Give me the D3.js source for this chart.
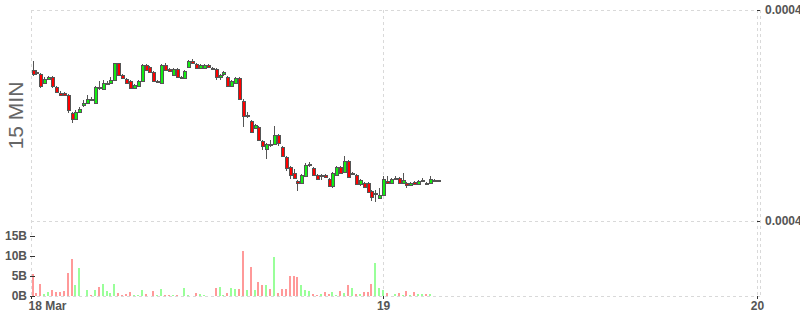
<!DOCTYPE html>
<html>
<head>
<meta charset="utf-8">
<script src="https://cdn.jsdelivr.net/npm/d3@7"></script>
<style>
  body { margin: 0; background: #fff; }
  svg { display: block; font-family: "Liberation Sans", Arial, sans-serif; }
  .grid line { stroke: #d9d9d9; stroke-dasharray: 3,3; shape-rendering: crispEdges; }
  .axis text { font-size: 12px; font-weight: bold; fill: #555; }
  .axis line { stroke: #333; shape-rendering: crispEdges; }
  .axis path { display: none; }
</style>
</head>
<body>
<div id="chart"></div>
<script>
// 15 minute candles, prices quoted in units of 1e-7
var openE7 = [4302,4298,4294,4276,4284,4288,4268,4256,4256,4252, 4216,4204,4218,4232,4236,4244,4236,4268,4264,4274,
  4276,4282,4316,4292,4284,4280,4266,4270,4280,4312, 4308,4298,4278,4276,4312,4304,4292,4304,4286,4286,
  4308,4320,4314,4306,4306,4312,4306,4304,4288,4294, 4288,4270,4276,4286,4240,4210,4200,4186,4188,4160,
  4144,4154,4154,4172,4148,4128,4108,4096,4080,4076, 4090,4112,4106,4092,4090,4092,4084,4070,4092,4108,
  4098,4120,4094,4092,4074,4076,4076,4060,4054,4046, 4052,4080,4076,4084,4086,4076,4076,4072,4078,4074,
  4080,4076,4076,4082,4082];
var highE7 = [4320,4302,4296,4288,4290,4290,4270,4260,4258,4254, 4218,4222,4228,4242,4252,4248,4270,4280,4282,4280,
  4288,4316,4316,4294,4286,4282,4274,4282,4314,4314, 4310,4300,4282,4314,4316,4306,4306,4306,4290,4302,
  4322,4324,4316,4314,4314,4314,4308,4306,4294,4300, 4290,4282,4288,4288,4244,4218,4202,4194,4190,4162,
  4156,4162,4190,4174,4150,4130,4110,4104,4082,4094, 4116,4118,4108,4094,4094,4094,4086,4098,4110,4110,
  4130,4122,4098,4094,4084,4078,4078,4062,4062,4066, 4090,4090,4086,4090,4088,4096,4078,4078,4080,4082,
  4086,4078,4090,4084,4082];
var lowE7 = [4290,4292,4266,4274,4282,4266,4256,4250,4250,4216, 4196,4202,4216,4228,4234,4240,4234,4262,4262,4272,
  4274,4280,4290,4284,4274,4264,4264,4268,4278,4300, 4296,4278,4276,4274,4300,4298,4290,4286,4284,4284,
  4306,4314,4304,4304,4304,4306,4302,4282,4282,4290, 4268,4268,4274,4242,4188,4206,4176,4184,4160,4142,
  4124,4148,4152,4150,4128,4100,4084,4084,4060,4074, 4088,4108,4090,4082,4082,4086,4068,4066,4090,4094,
  4096,4086,4092,4072,4070,4066,4056,4040,4038,4044, 4050,4074,4074,4082,4074,4074,4066,4070,4072,4072,
  4078,4072,4074,4078,4080];
var closeE7 = [4294,4296,4270,4284,4288,4270,4258,4252,4252,4222, 4204,4218,4224,4236,4244,4242,4268,4266,4276,4276,
  4282,4316,4292,4286,4276,4266,4272,4280,4312,4302, 4298,4280,4280,4312,4302,4300,4304,4288,4288,4300,
  4320,4316,4306,4312,4312,4308,4304,4288,4292,4298, 4270,4280,4286,4244,4210,4212,4178,4192,4162,4150,
  4154,4152,4172,4156,4130,4106,4092,4086,4076,4092, 4112,4114,4092,4084,4092,4088,4070,4096,4108,4096,
  4120,4088,4096,4074,4082,4068,4058,4048,4056,4052, 4084,4076,4084,4086,4076,4082,4072,4076,4074,4080,
  4082,4074,4084,4080,4080];
// volume, billions
var volumeB = [5.6,0.75,3,0.5,1,1.5,1.1,1.1,1.3,5.8, 9.2,2.8,7,0.1,1.5,0.3,1.5,2.3,3,1.3,
  0.8,3,0.8,0.3,0.5,1,0.3,0.2,1.5,0.5, 0.1,1.3,0.3,1.8,0.3,0.2,0.3,0.2,0.05,2,
  0.3,0.05,0.8,0.5,0.3,0.05,0.05,2,2.3,0.3, 0.8,2,1.7,1.8,11.2,1.5,7.2,1.5,3.5,2.8,
  2.8,1.8,9.7,0.8,1.8,1.8,5,5,4.8,2.8, 1.5,1.3,0.5,0.3,0.5,1,0.5,1,0.3,1.3,
  0.8,2.8,2,0.5,0.5,1,1,3,8.2,2, 1.5,0.8,0.1,0.5,0.8,0.3,1.3,0.3,1.1,0.5,
  0.5,0.5,0.5,0.1,0.1];

var firstCandle = Date.UTC(2024, 2, 18, 1, 30);
var intervalMin = 15;
var priceTicks = [0.0004, 0.0004422];
var volTicks = [0, 5, 10, 15];
var xTickDates = [new Date(Date.UTC(2024, 2, 18, 1, 24)), new Date(Date.UTC(2024, 2, 19)), new Date(Date.UTC(2024, 2, 20))];
var xTickLabels = ["18 Mar", "19", "20"];

var W = 800, H = 315;
var left = 31, right = 757, priceTop = 10, priceBottom = 221, volBottom = 296;

var open = openE7.map(function(d) { return d * 1e-7; });
var high = highE7.map(function(d) { return d * 1e-7; });
var low = lowE7.map(function(d) { return d * 1e-7; });
var close = closeE7.map(function(d) { return d * 1e-7; });
var times = open.map(function(d, i) { return new Date(firstCandle + i * intervalMin * 60000); });
var idx = d3.range(open.length);

var svg = d3.select("#chart").append("svg")
    .attr("width", W)
    .attr("height", H);

// Scales
var x = d3.scaleUtc()
    .domain([xTickDates[0], xTickDates[2]])
    .range([left, right]);
var y = d3.scaleLinear()
    .domain(priceTicks)
    .range([priceBottom, priceTop]);
var yv = d3.scaleLinear()
    .domain([0, 18.75])
    .range([volBottom, priceBottom]);

// Grid
var grid = svg.append("g").attr("class", "grid");
grid.selectAll("line.h").data(priceTicks).join("line")
    .attr("class", "h")
    .attr("x1", left).attr("x2", right + 3)
    .attr("y1", function(d) { return Math.round(y(d)) + 0.5; })
    .attr("y2", function(d) { return Math.round(y(d)) + 0.5; });
grid.append("line")
    .attr("x1", left).attr("x2", right + 3)
    .attr("y1", volBottom + 0.5).attr("y2", volBottom + 0.5);
grid.selectAll("line.v").data(xTickDates).join("line")
    .attr("class", "v")
    .attr("x1", function(d) { return Math.round(x(d)) + 0.5; })
    .attr("x2", function(d) { return Math.round(x(d)) + 0.5; })
    .attr("y1", priceTop).attr("y2", volBottom);
grid.append("line")
    .attr("x1", right + 3.5).attr("x2", right + 3.5)
    .attr("y1", priceTop).attr("y2", volBottom);

// Volume bars
var upVol = "#99ff99", downVol = "#ff9999";
svg.append("g").selectAll("rect").data(idx).join("rect")
    .attr("x", function(i) { return Math.round(x(times[i])) - 1; })
    .attr("y", function(i) { return yv(volumeB[i]); })
    .attr("width", 2)
    .attr("height", function(i) { return volBottom - yv(volumeB[i]); })
    .attr("fill", function(i) { return close[i] >= open[i] ? upVol : downVol; })
    .attr("shape-rendering", "crispEdges");

// Candles
var upCol = "#11ee11", downCol = "#ff0000", edge = "#555";
var candles = svg.append("g");
candles.selectAll("line").data(idx).join("line")
    .attr("x1", function(i) { return Math.round(x(times[i])) + 0.5; })
    .attr("x2", function(i) { return Math.round(x(times[i])) + 0.5; })
    .attr("y1", function(i) { return y(high[i]); })
    .attr("y2", function(i) { return y(low[i]); })
    .attr("stroke", edge)
    .attr("stroke-width", 1);
candles.selectAll("rect").data(idx).join("rect")
    .attr("x", function(i) { return Math.round(x(times[i])) - 1; })
    .attr("y", function(i) { return y(Math.max(open[i], close[i])); })
    .attr("width", 3)
    .attr("height", function(i) { return Math.max(1, y(Math.min(open[i], close[i])) - y(Math.max(open[i], close[i]))); })
    .attr("fill", function(i) { return close[i] >= open[i] ? upCol : downCol; })
    .attr("stroke", edge)
    .attr("stroke-width", 1)
    .attr("shape-rendering", "crispEdges");

// Axes
svg.append("g")
    .attr("class", "axis")
    .attr("transform", "translate(" + right + ",0)")
    .call(d3.axisRight(y).tickValues(priceTicks).tickSize(3).tickPadding(5).tickFormat(d3.format(".4f")));

svg.append("g")
    .attr("class", "axis")
    .attr("transform", "translate(35,0)")
    .call(d3.axisLeft(yv).tickValues(volTicks).tickSize(5).tickPadding(3).tickFormat(function(d) { return d + "B"; }));

var xAxisG = svg.append("g")
    .attr("class", "axis")
    .attr("transform", "translate(0," + volBottom + ")")
    .call(d3.axisBottom(x).tickValues(xTickDates).tickSize(3).tickPadding(2)
        .tickFormat(function(d, i) { return xTickLabels[i]; }));
xAxisG.selectAll(".tick").filter(function(d, i) { return i === 0; })
    .select("text").attr("text-anchor", "start").attr("x", -3);

// Title
svg.append("text")
    .attr("transform", "translate(15," + (priceTop + priceBottom) / 2 + ") rotate(-90)")
    .attr("text-anchor", "middle")
    .attr("dominant-baseline", "central")
    .attr("font-size", 21)
    .attr("fill", "#666")
    .text("15 MIN");
</script>
</body>
</html>
